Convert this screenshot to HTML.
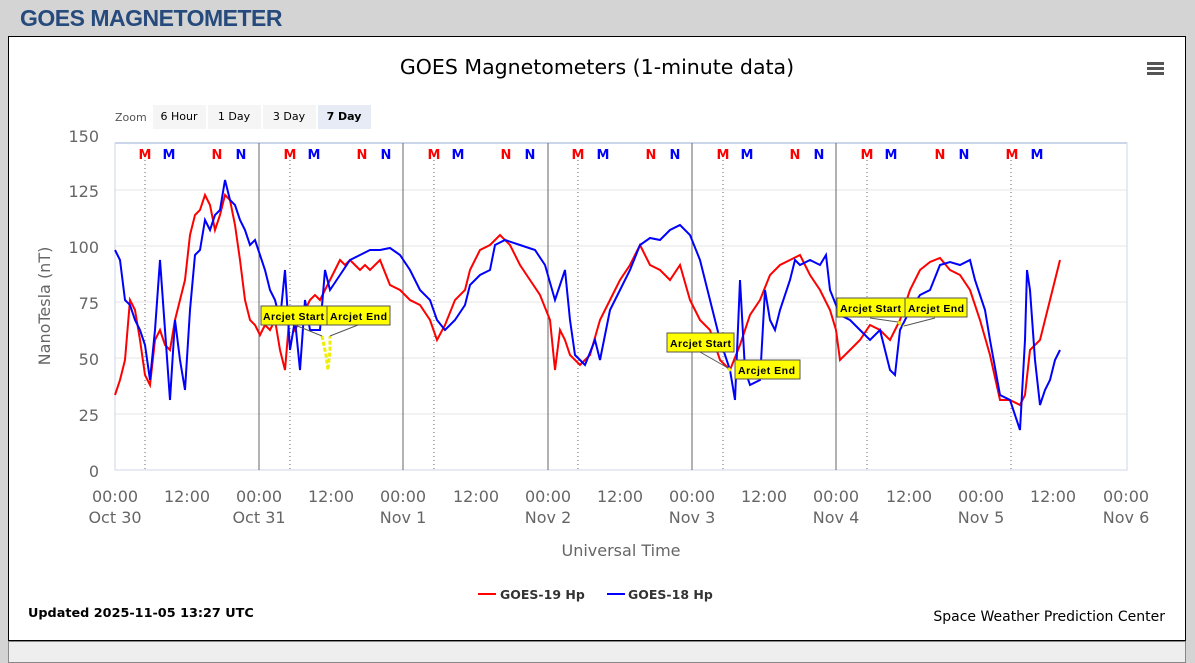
<!DOCTYPE html>
<html><head><meta charset="utf-8"><style>
body{margin:0;width:1195px;height:649px;background:#d4d4d4;overflow:hidden;font-family:"Liberation Sans",sans-serif}
h1{position:absolute;left:20px;top:5px;margin:0;font-size:23px;color:#274a7c;font-weight:bold;letter-spacing:-0.5px}
.panel{position:absolute;left:8px;top:36px;width:1176px;height:603px;background:#fff;border:1px solid #000}
.bot{position:absolute;left:8px;top:641px;width:1176px;height:20px;background:#eee;border:1px solid #888}
svg{position:absolute;left:0;top:0}
</style></head><body>
<h1>GOES MAGNETOMETER</h1>
<div class="panel"></div><div class="bot"></div>
<svg width="1195" height="649" font-family="DejaVu Sans, sans-serif">
<text x="597" y="74" text-anchor="middle" font-size="20.5" fill="#000">GOES Magnetometers (1-minute data)</text>
<g fill="#555"><rect x="1147" y="62" width="17" height="3"/><rect x="1147" y="67" width="17" height="3"/><rect x="1147" y="72" width="17" height="3"/></g>
<text x="115" y="121" font-size="11" fill="#555">Zoom</text>
<rect x="153" y="105" width="53" height="24" fill="#f5f5f5"/><text x="179" y="120" font-size="11" text-anchor="middle">6 Hour</text>
<rect x="208" y="105" width="53" height="24" fill="#f5f5f5"/><text x="234" y="120" font-size="11" text-anchor="middle">1 Day</text>
<rect x="263" y="105" width="53" height="24" fill="#f5f5f5"/><text x="289" y="120" font-size="11" text-anchor="middle">3 Day</text>
<rect x="318" y="105" width="53" height="24" fill="#e6ebf5"/><text x="344" y="120" font-size="11" text-anchor="middle" font-weight="bold">7 Day</text>
<g stroke="#e6e6e6"><line x1="115" x2="1127" y1="190" y2="190"/><line x1="115" x2="1127" y1="246" y2="246"/><line x1="115" x2="1127" y1="302" y2="302"/><line x1="115" x2="1127" y1="358" y2="358"/><line x1="115" x2="1127" y1="414" y2="414"/></g>
<rect x="115" y="143" width="1012" height="327" fill="none" stroke="#ccd6eb"/>
<line x1="115" x2="1127" y1="143" y2="143" stroke="#ccd6eb" stroke-width="2"/>
<g font-size="16" fill="#666" text-anchor="end"><text x="99" y="142">150</text><text x="99" y="197">125</text><text x="99" y="253">100</text><text x="99" y="309">75</text><text x="99" y="365">50</text><text x="99" y="421">25</text><text x="99" y="477">0</text></g>
<text transform="translate(50,306) rotate(-90)" font-size="16" fill="#666" text-anchor="middle">NanoTesla (nT)</text>
<g stroke="#666"><line x1="259" x2="259" y1="143" y2="470"/><line x1="403" x2="403" y1="143" y2="470"/><line x1="548" x2="548" y1="143" y2="470"/><line x1="692" x2="692" y1="143" y2="470"/><line x1="836" x2="836" y1="143" y2="470"/></g>
<g stroke="#666" stroke-dasharray="1,3"><line x1="145" x2="145" y1="160" y2="470"/><line x1="290" x2="290" y1="160" y2="470"/><line x1="434" x2="434" y1="160" y2="470"/><line x1="578" x2="578" y1="160" y2="470"/><line x1="723" x2="723" y1="160" y2="470"/><line x1="867" x2="867" y1="160" y2="470"/><line x1="1011" x2="1011" y1="160" y2="470"/></g>
<g font-size="13" font-weight="bold" text-anchor="middle">
<g fill="#f00"><text x="145" y="159">M</text><text x="217" y="159">N</text><text x="290" y="159">M</text><text x="362" y="159">N</text><text x="434" y="159">M</text><text x="506" y="159">N</text><text x="578" y="159">M</text><text x="651" y="159">N</text><text x="723" y="159">M</text><text x="795" y="159">N</text><text x="867" y="159">M</text><text x="940" y="159">N</text><text x="1012" y="159">M</text></g>
<g fill="#00f"><text x="169" y="159">M</text><text x="241" y="159">N</text><text x="314" y="159">M</text><text x="386" y="159">N</text><text x="458" y="159">M</text><text x="530" y="159">N</text><text x="603" y="159">M</text><text x="675" y="159">N</text><text x="747" y="159">M</text><text x="819" y="159">N</text><text x="891" y="159">M</text><text x="964" y="159">N</text><text x="1037" y="159">M</text></g></g>
<g font-size="16" fill="#666" text-anchor="middle">
<text x="115" y="502">00:00</text><text x="115" y="523">Oct 30</text><text x="187" y="502">12:00</text>
<text x="259" y="502">00:00</text><text x="259" y="523">Oct 31</text><text x="331" y="502">12:00</text>
<text x="403" y="502">00:00</text><text x="403" y="523">Nov 1</text><text x="476" y="502">12:00</text>
<text x="548" y="502">00:00</text><text x="548" y="523">Nov 2</text><text x="620" y="502">12:00</text>
<text x="692" y="502">00:00</text><text x="692" y="523">Nov 3</text><text x="764" y="502">12:00</text>
<text x="836" y="502">00:00</text><text x="836" y="523">Nov 4</text><text x="909" y="502">12:00</text>
<text x="981" y="502">00:00</text><text x="981" y="523">Nov 5</text><text x="1053" y="502">12:00</text>
<text x="1126" y="502">00:00</text><text x="1126" y="523">Nov 6</text></g>
<text x="621" y="556" font-size="16" fill="#666" text-anchor="middle">Universal Time</text>
<polyline fill="none" stroke="#f00" stroke-width="2" points="115,395 120,380 125,360 130,300 135,310 140,340 145,375 150,385 155,340 160,330 165,345 170,350 175,320 180,300 185,280 190,235 195,215 200,210 205,195 210,205 215,230 220,215 225,195 230,200 235,225 240,260 245,300 250,320 255,325 260,335 265,325 270,330 275,320 280,350 285,370 290,310 295,330 300,320 305,310 310,300 315,295 320,300 325,290 330,280 335,270 340,260 345,265 350,260 355,265 360,270 365,265 370,270 380,260 390,285 400,290 410,300 420,305 430,320 437,340 445,325 455,300 465,290 470,270 480,250 490,245 500,235 510,245 520,265 530,280 540,295 550,320 555,370 560,330 565,340 570,355 580,365 590,355 600,320 610,300 620,280 630,265 640,245 650,265 660,270 670,280 680,265 690,300 700,320 710,330 720,360 730,370 740,345 750,315 760,300 770,275 780,265 790,260 800,255 810,275 820,290 830,310 836,330 840,360 850,350 860,340 870,325 880,330 890,340 900,320 910,290 920,270 930,262 940,258 950,270 960,275 970,290 980,320 990,355 1000,400 1010,400 1020,405 1025,395 1030,350 1040,340 1050,300 1060,260"/>
<polyline fill="none" stroke="#00f" stroke-width="2" points="115,250 120,260 125,300 130,305 135,320 140,330 145,345 150,380 155,330 160,260 165,330 170,400 175,320 180,360 185,390 190,310 195,255 200,250 205,220 210,230 215,215 220,210 225,180 230,200 235,205 240,220 245,230 250,245 255,240 260,255 265,270 270,290 275,300 280,320 285,270 290,350 295,320 300,370 305,300 310,330 315,330 320,330 325,270 330,290 340,275 350,260 360,255 370,250 380,250 390,248 400,255 410,270 420,290 430,300 437,320 445,330 455,320 465,305 470,285 480,275 490,270 495,245 505,240 520,245 535,250 545,265 555,300 565,270 570,320 575,355 585,365 595,340 600,360 610,310 620,290 630,270 640,245 650,238 660,240 670,230 680,225 690,235 700,260 710,300 720,340 730,370 735,400 740,280 745,370 750,385 760,380 765,290 770,320 775,330 780,310 790,280 795,260 800,265 810,260 820,265 826,255 830,290 840,315 850,320 860,330 870,340 880,330 890,370 895,375 900,330 910,310 920,295 930,290 940,265 950,262 960,265 970,260 975,280 985,310 990,340 1000,395 1010,400 1015,415 1020,430 1025,340 1027,270 1030,290 1035,360 1040,405 1045,390 1050,380 1055,360 1060,350"/>
<g stroke="#ee0" stroke-width="3" stroke-dasharray="4,2" fill="none"><polyline points="322,336 326,355 328,370 330,350 330,336"/><polyline points="728,368 732,372"/><polyline points="898,322 904,326"/></g>
<g stroke="#555" fill="none"><line x1="295" y1="325" x2="322" y2="336"/><line x1="358" y1="325" x2="330" y2="336"/><line x1="700" y1="352" x2="728" y2="368"/><line x1="766" y1="360" x2="735" y2="372"/><line x1="870" y1="318" x2="898" y2="322"/><line x1="935" y1="318" x2="904" y2="326"/></g>
<g stroke="#555">
<rect x="261" y="306" width="66" height="19" fill="#ff0"/><rect x="327" y="306" width="63" height="19" fill="#ff0"/>
<rect x="667" y="333" width="67" height="19" fill="#ff0"/><rect x="735" y="360" width="65" height="19" fill="#ff0"/>
<rect x="837" y="298" width="68" height="19" fill="#ff0"/><rect x="905" y="298" width="62" height="19" fill="#ff0"/></g>
<g font-size="10.5" font-weight="bold" fill="#000" font-family="Liberation Sans, sans-serif">
<text x="263" y="320" textLength="61">Arcjet Start</text><text x="330" y="320" textLength="57">Arcjet End</text>
<text x="670" y="347" textLength="61">Arcjet Start</text><text x="738" y="374" textLength="57">Arcjet End</text>
<text x="840" y="312" textLength="61">Arcjet Start</text><text x="908" y="312" textLength="56">Arcjet End</text></g>
<line x1="478" x2="496" y1="594" y2="594" stroke="#f00" stroke-width="2"/><text x="500" y="599" font-size="12.5" font-weight="bold" fill="#333">GOES-19 Hp</text>
<line x1="607" x2="625" y1="594" y2="594" stroke="#00f" stroke-width="2"/><text x="628" y="599" font-size="12.5" font-weight="bold" fill="#333">GOES-18 Hp</text>
<text x="28" y="617" font-size="12.8" font-weight="bold">Updated 2025-11-05 13:27 UTC</text>
<text x="1165" y="621" font-size="14" text-anchor="end">Space Weather Prediction Center</text>
</svg>
</body></html>
